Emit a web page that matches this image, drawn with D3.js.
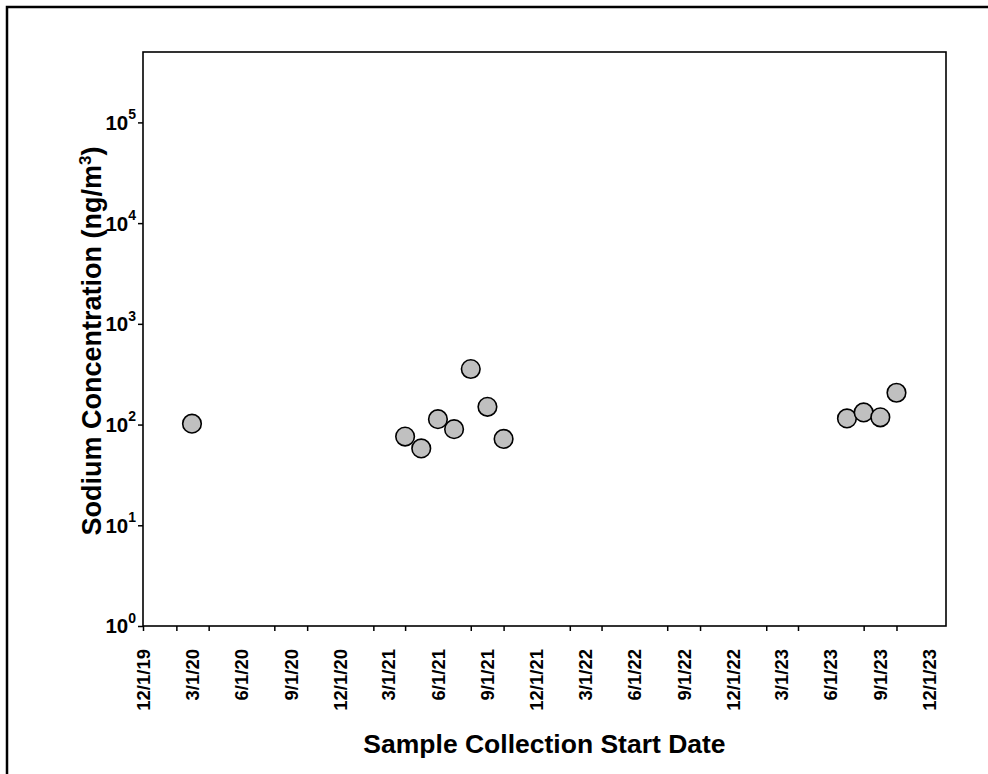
<!DOCTYPE html>
<html>
<head>
<meta charset="utf-8">
<script src="https://cdn.jsdelivr.net/npm/d3@7"></script>
<style>
  html, body { margin: 0; padding: 0; background: #fff; }
  svg { display: block; font-family: "Liberation Sans", Arial, sans-serif; }
</style>
</head>
<body>
<svg id="chart" width="988" height="774"></svg>
<script>
// ---- data ----
const sampleDates = ["3/1/20", "4/1/21", "5/1/21", "6/1/21", "7/1/21", "8/1/21", "9/1/21", "10/1/21",
                     "7/1/23", "8/1/23", "9/1/23", "10/1/23"];
const sodiumValues = [102, 76, 58, 113, 90, 356, 150, 72, 115, 132, 118, 207];

const xTickLabels = ["12/1/19", "3/1/20", "6/1/20", "9/1/20", "12/1/20", "3/1/21", "6/1/21", "9/1/21",
                     "12/1/21", "3/1/22", "6/1/22", "9/1/22", "12/1/22", "3/1/23", "6/1/23", "9/1/23", "12/1/23"];
const xTickMarks = ["12/1/19", "2/1/20", "4/1/20", "8/1/20", "10/1/20", "2/1/21", "4/1/21", "8/1/21", "10/1/21",
                    "2/1/22", "4/1/22", "8/1/22", "10/1/22", "2/1/23", "4/1/23", "8/1/23", "10/1/23"];
const xDomain = ["12/1/19", "1/1/24"];
const yTickValues = [1, 10, 100, 1000, 10000, 100000];
const yDomain = [1, 500000];

const xTitle = "Sample Collection Start Date";
const yTitle = "Sodium Concentration (ng/m";

// ---- layout ----
const parse = d3.timeParse("%m/%d/%y");
const L = 143, R = 946, T = 52, B = 626;

const svg = d3.select("#chart");

// outer frame
svg.append("rect")
  .attr("x", 7).attr("y", 7).attr("width", 1000).attr("height", 800)
  .attr("fill", "none").attr("stroke", "#000").attr("stroke-width", 2.5);

const x = d3.scaleTime().domain(xDomain.map(parse)).range([L, R]);
const y = d3.scaleLog().domain(yDomain).range([B, T]);

// plot frame
svg.append("rect")
  .attr("x", L).attr("y", T).attr("width", R - L).attr("height", B - T)
  .attr("fill", "none").attr("stroke", "#000").attr("stroke-width", 1.6);

// x tick marks
const xAxisMarks = d3.axisBottom(x)
  .tickValues(xTickMarks.map(parse))
  .tickSize(5)
  .tickFormat("");
svg.append("g")
  .attr("transform", `translate(0,${B})`)
  .call(xAxisMarks)
  .call(g => g.select(".domain").remove())
  .call(g => g.selectAll(".tick line").attr("stroke", "#000").attr("stroke-width", 1.5));

// x tick labels (rotated)
svg.append("g").selectAll("text")
  .data(xTickLabels)
  .join("text")
  .attr("transform", d => `translate(${x(parse(d))},${B + 23}) rotate(-90)`)
  .attr("text-anchor", "end")
  .attr("dy", "0.36em")
  .attr("font-size", 18.5)
  .attr("font-weight", "bold")
  .attr("fill", "#000")
  .text(d => d);

// y axis ticks
const yAxis = d3.axisLeft(y)
  .tickValues(yTickValues)
  .tickSize(5)
  .tickFormat("");
svg.append("g")
  .attr("transform", `translate(${L},0)`)
  .call(yAxis)
  .call(g => g.select(".domain").remove())
  .call(g => g.selectAll(".tick line").attr("stroke", "#000").attr("stroke-width", 1.5));

// y tick labels 10^n
const yLab = svg.append("g").selectAll("text")
  .data(yTickValues)
  .join("text")
  .attr("x", L - 7)
  .attr("y", d => y(d))
  .attr("dy", "0.36em")
  .attr("text-anchor", "end")
  .attr("font-size", 20.5)
  .attr("font-weight", "bold")
  .attr("fill", "#000");
yLab.append("tspan").text("10");
yLab.append("tspan")
  .attr("font-size", 14)
  .attr("dy", "-0.75em")
  .text(d => Math.round(Math.log10(d)));

// points
svg.append("g").selectAll("circle")
  .data(sampleDates.map((d, i) => ({ date: parse(d), value: sodiumValues[i] })))
  .join("circle")
  .attr("cx", d => x(d.date))
  .attr("cy", d => y(d.value))
  .attr("r", 9.3)
  .attr("fill", "#c0c0c0")
  .attr("stroke", "#000")
  .attr("stroke-width", 1.6);

// axis titles
svg.append("text")
  .attr("x", (L + R) / 2)
  .attr("y", 753)
  .attr("text-anchor", "middle")
  .attr("font-size", 26.5)
  .attr("font-weight", "bold")
  .attr("fill", "#000")
  .text(xTitle);

const yt = svg.append("text")
  .attr("transform", `translate(101,${(T + B) / 2 + 2}) rotate(-90)`)
  .attr("text-anchor", "middle")
  .attr("font-size", 27)
  .attr("font-weight", "bold")
  .attr("fill", "#000");
yt.append("tspan").text(yTitle);
yt.append("tspan").attr("font-size", 17).attr("dy", "-0.6em").text("3");
yt.append("tspan").attr("dy", "0.378em").text(")");
</script>
</body>
</html>
